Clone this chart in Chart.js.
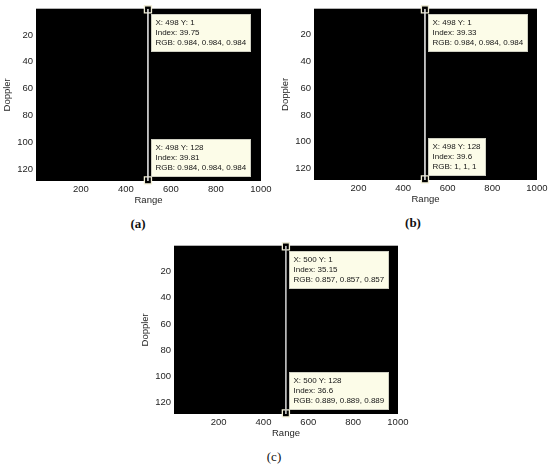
<!DOCTYPE html>
<html>
<head>
<meta charset="utf-8">
<script src="https://cdn.jsdelivr.net/npm/chart.js@4.4.1/dist/chart.umd.min.js"></script>
<style>
  body { margin: 0; background: #fff; }
  #wrap { position: relative; width: 550px; height: 470px; overflow: hidden; }
  canvas { position: absolute; }
  .cap {
    position: absolute;
    font-family: "Liberation Serif", "Times New Roman", serif;
    font-size: 13px;
    line-height: 14px;
    transform: translate(-50%, -50%);
    color: #111;
  }
</style>
</head>
<body>
<div id="wrap">
  <canvas id="c0" width="275" height="209" style="left:0;top:0"></canvas>
  <canvas id="c1" width="273" height="208" style="left:278px;top:0"></canvas>
  <canvas id="c2" width="274" height="205" style="left:138px;top:237px"></canvas>
  <div class="cap" style="left:138px;top:224px;font-weight:bold">(a)</div>
  <div class="cap" style="left:413px;top:223px;font-weight:bold">(b)</div>
  <div class="cap" style="left:274px;top:457px">(c)</div>
</div>
<script>
// values
const panelLabels = ['(a)', '(b)', '(c)'];
const peakRange = [498, 498, 500];      // range bin of the bright column
const tipRows = [1, 128];               // doppler rows of the two data tips
const tipIndex = [[39.75, 39.81], [39.33, 39.6], [35.15, 36.6]];
const tipRGB = [[0.984, 0.984], [0.984, 1], [0.857, 0.889]];
const xTicks = [200, 400, 600, 800, 1000];
const yTicks = [20, 40, 60, 80, 100, 120];

Chart.defaults.font.family = '"Liberation Sans", Arial, sans-serif';
Chart.defaults.font.size = 9.5;
Chart.defaults.color = '#1e1e1e';

const gray = v => {
    const c = Math.round(v * 255);
    return `rgb(${c}, ${c}, ${c})`;
};

// image background (all other cells are ~0)
const imageBackground = {
    id: 'imageBackground',
    beforeDatasetsDraw(chart) {
        const {ctx, chartArea: a} = chart;
        ctx.save();
        ctx.fillStyle = '#000';
        ctx.fillRect(a.left, a.top, a.width, a.height);
        ctx.restore();
    }
};

// matlab style data tips
const dataTips = {
    id: 'dataTips',
    afterDraw(chart, args, opts) {
        const {ctx, scales: {x, y}} = chart;
        const p = opts.panel;
        ctx.save();
        ctx.font = '8px "Liberation Sans", Arial, sans-serif';
        ctx.textBaseline = 'middle';
        tipRows.forEach((row, k) => {
            const v = tipRGB[p][k];
            const lines = [
                `X: ${peakRange[p]} Y: ${row}`,
                `Index: ${tipIndex[p][k]}`,
                `RGB: ${v}, ${v}, ${v}`
            ];
            const mx = x.getPixelForValue(peakRange[p]);
            const my = y.getPixelForValue(row);
            const lh = 10.3;
            const w = Math.ceil(Math.max(...lines.map(t => ctx.measureText(t).width))) + 8;
            const h = Math.round(lines.length * lh + 6);
            const left = Math.round(mx + 3) + 0.5;
            const top = Math.round(k === 0 ? my + 5 : my - 4 - h) + 0.5;
            ctx.fillStyle = '#fcfce8';
            ctx.fillRect(left, top, w, h);
            ctx.strokeStyle = '#cfcfc2';
            ctx.lineWidth = 1;
            ctx.strokeRect(left, top, w, h);
            ctx.fillStyle = '#151515';
            lines.forEach((t, i) => ctx.fillText(t, left + 4, top + 3 + lh * (i + 0.5)));
        });
        ctx.restore();
    }
};

function makePanel(id, p) {
    const ctx = document.getElementById(id).getContext('2d');
    return new Chart(ctx, {
        type: 'scatter',
        data: {
            datasets: [
                {
                    // bright range column, top to bottom of the image
                    data: [{x: peakRange[p], y: 0.5}, {x: peakRange[p], y: 128.5}],
                    showLine: true,
                    pointRadius: 0,
                    borderWidth: 1.6,
                    borderColor: (c) => {
                        const a = c.chart.chartArea;
                        if (!a) return gray(tipRGB[p][0]);
                        const g = c.chart.ctx.createLinearGradient(0, a.top, 0, a.bottom);
                        g.addColorStop(0, gray(tipRGB[p][0] * 0.9));
                        g.addColorStop(1, gray(tipRGB[p][1] * 0.9));
                        return g;
                    }
                }, {
                    // data tip markers
                    data: tipRows.map(r => ({x: peakRange[p], y: r})),
                    pointStyle: 'rect',
                    pointRadius: 5,
                    pointBackgroundColor: '#000',
                    pointBorderColor: '#f2efd6',
                    pointBorderWidth: 1.3,
                    clip: false
                }
            ]
        },
        options: {
            responsive: false,
            animation: false,
            events: [],
            layout: {
                padding: {left: 0, top: 5, right: 14, bottom: 0}
            },
            plugins: {
                legend: {display: false},
                tooltip: {enabled: false},
                dataTips: {panel: p}
            },
            scales: {
                x: {
                    type: 'linear',
                    min: 0.5,
                    max: 1000.5,
                    afterBuildTicks: (s) => {
                        s.ticks = xTicks.map(v => ({value: v}));
                    },
                    afterFit: (s) => {
                        s.height = 28;
                    },
                    ticks: {
                        padding: 3,
                        autoSkip: false,
                        maxRotation: 0,
                        callback: (v) => String(v)
                    },
                    grid: {display: false, drawTicks: false},
                    border: {display: false},
                    title: {
                        display: true,
                        text: 'Range',
                        padding: {top: 0, bottom: 3}
                    }
                },
                y: {
                    type: 'linear',
                    reverse: true,
                    min: 0.5,
                    max: 128.5,
                    afterBuildTicks: (s) => {
                        s.ticks = yTicks.map(v => ({value: v}));
                    },
                    afterFit: (s) => {
                        s.width = 36;
                    },
                    ticks: {
                        padding: 3,
                        autoSkip: false,
                        callback: (v) => String(v)
                    },
                    grid: {display: false, drawTicks: false},
                    border: {display: false},
                    title: {
                        display: true,
                        text: 'Doppler',
                        padding: {top: 2, bottom: 0}
                    }
                }
            }
        },
        plugins: [imageBackground, dataTips]
    });
}

panelLabels.forEach((lbl, p) => makePanel('c' + p, p));
</script>
</body>
</html>
